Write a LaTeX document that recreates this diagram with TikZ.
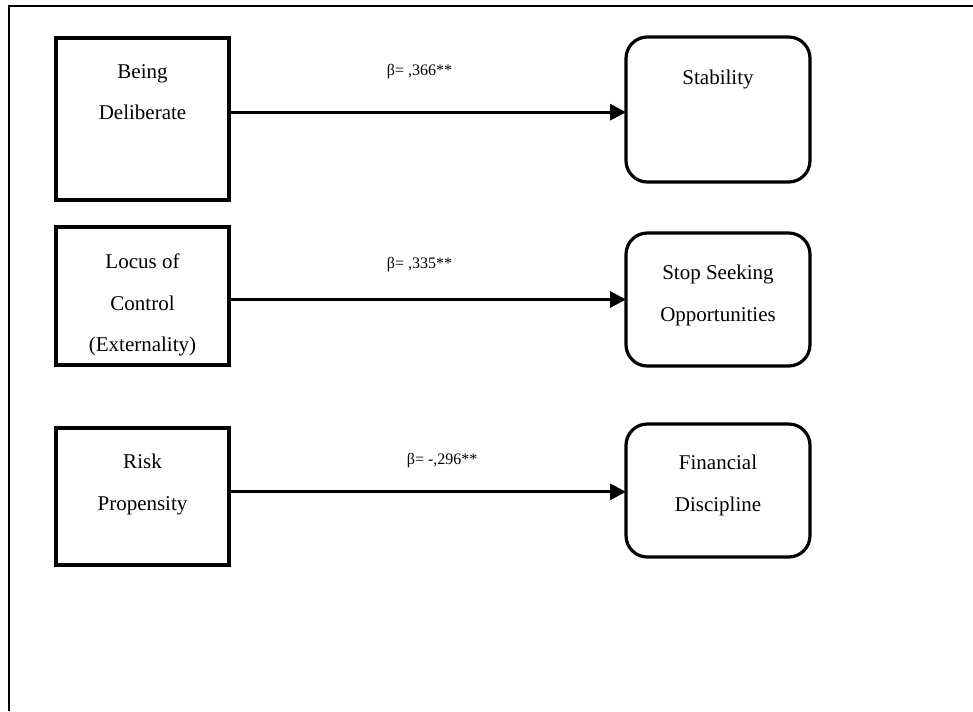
\documentclass[tikz,border=0pt]{standalone}
\usepackage{fontspec}
\setmainfont{Liberation Serif}
\usetikzlibrary{arrows.meta, positioning}

\begin{document}
\begin{tikzpicture}[
    x = 0.75pt, y = -0.75pt,
    cause/.style = {
      rectangle, draw, line width = 2.4pt, minimum width = 129.75pt,
      inner sep = 0pt, outer sep = 0pt
    },
    effect/.style = {
      rectangle, draw, rounded corners = 16pt, line width = 2.4pt,
      minimum width = 138pt, inner sep = 0pt, outer sep = 0pt
    },
    caption/.style = {
      align = center, inner sep = 0pt, font = \fontsize{15.75}{31}\selectfont
    },
    beta/.style = {inner sep = 0pt, font = \fontsize{12}{14}\selectfont},
    link/.style = {-{Triangle[length = 12pt, width = 12pt]}, line width = 2.4pt}
  ]
      \useasboundingbox (0, 0) rectangle (973, 711);
      \draw [line width = 1.2pt] (973, 6) -- (9, 6) -- (9, 711);

      \node [cause, minimum height = 121.5pt] (deliberate) at (142.5, 119) {};
      \node [cause, minimum height = 103.5pt] (locus) at (142.5, 296) {};
      \node [cause, minimum height = 102.75pt] (risk) at (142.5, 496.5) {};

      \node [effect, minimum height = 108.75pt] (stability) at (718, 109.5) {};
      \node [effect, minimum height = 99.75pt] (seeking) at (718, 299.5) {};
      \node [effect, minimum height = 99.75pt] (discipline) at (718, 490.5) {};

      \node [caption, below = 19.5pt of deliberate.north] (deliberate-text)
        {Being\\Deliberate};
      \node [caption, below = 20pt of locus.north] (locus-text)
        {Locus of\\Control\\(Externality)};
      \node [caption, below = 19.5pt of risk.north] (risk-text)
        {Risk\\Propensity};
      \node [caption, below = 24.5pt of stability.north] (stability-text)
        {Stability};
      \node [caption, below = 24pt of seeking.north] (seeking-text)
        {Stop Seeking\\Opportunities};
      \node [caption, below = 23.25pt of discipline.north] (discipline-text)
        {Financial\\Discipline};

      \draw [link] ([yshift = -2pt] stability.west -| deliberate.east) to
        node [beta, pos = 0.48, above = 23.5pt] (beta-a) {β= ,366**}
        ([yshift = -2pt] stability.west);
      \draw [link] (seeking.west -| locus.east) to
        node [beta, pos = 0.48, above = 19.5pt] (beta-b) {β= ,335**}
        (seeking.west);
      \draw [link] ([yshift = -1pt] discipline.west -| risk.east) to
        node [beta, pos = 0.537, above = 17pt] (beta-c) {β= -,296**}
        ([yshift = -1pt] discipline.west);
    \end{tikzpicture}
\end{document}
